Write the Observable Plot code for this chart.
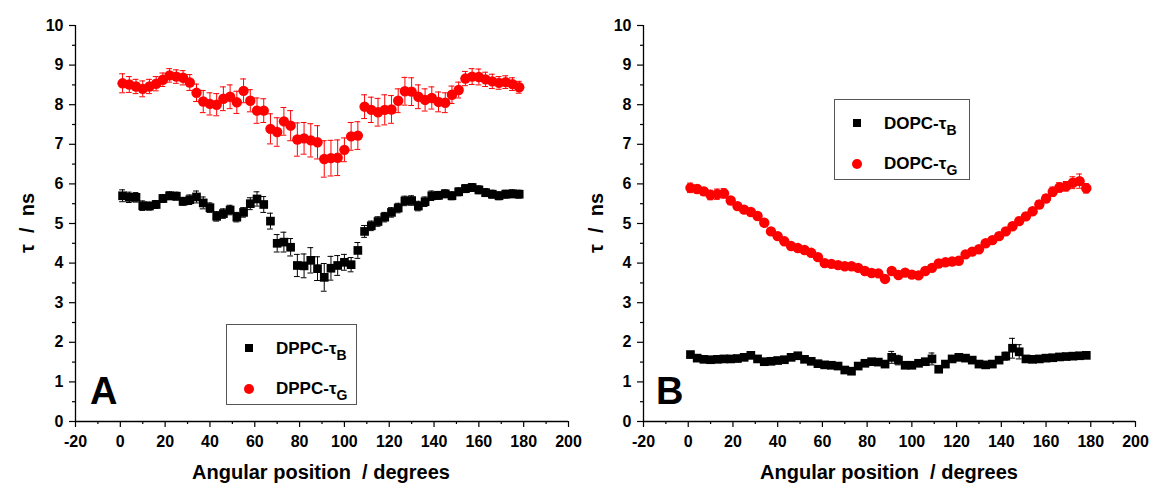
<!DOCTYPE html>
<html>
<head>
<meta charset="utf-8">
<script src="https://cdn.jsdelivr.net/npm/d3@7"></script>
<script src="https://cdn.jsdelivr.net/npm/@observablehq/plot@0.6"></script>
<style>
  body { margin: 0; background: #fff; }
  #wrap { position: relative; width: 1150px; height: 486px; font-family: "Liberation Sans", Arial, sans-serif; font-weight: bold; color: #000; overflow: hidden; }
  #wrap svg { position: absolute; top: 0; }
  #wrap svg text { font-family: "Liberation Sans", Arial, sans-serif !important; font-weight: bold !important; font-size: 16px !important; }
  .abs { position: absolute; white-space: nowrap; }
  .ytitle { font-size: 20px; line-height: 20px; transform: translate(-50%, -50%) rotate(-90deg); }
  .xtitle { font-size: 20px; line-height: 20px; transform: translateX(-50%); }
  .letter { font-size: 38px; line-height: 38px; }
  .legend { position: absolute; border: 1px solid #555; background: #fff; box-sizing: border-box; }
  .lt { position: absolute; font-size: 17px; line-height: 17px; }
  .lt sub { font-size: 14px; vertical-align: -6px; line-height: 0; }
  .sq { position: absolute; width: 8px; height: 8px; background: #000; }
  .ci { position: absolute; width: 10px; height: 10px; border-radius: 50%; background: #f00; }
</style>
</head>
<body>
<div id="wrap"></div>
<script>
// ---- data ----
const angle = [1,4,7,10,13,16,19,22,25,28,31,34,37,40,43,46,49,52,55,58,61,64,67,70,73,76,79,82,85,88,91,94,97,100,103,106,109,112,115,118,121,124,127,130,133,136,139,142,145,148,151,154,157,160,163,166,169,172,175,178];

// Panel A: DPPC
const dppcG = [8.54,8.51,8.46,8.40,8.46,8.53,8.63,8.74,8.71,8.68,8.56,8.30,8.08,8.02,8.00,8.15,8.20,8.06,8.35,8.10,7.85,7.85,7.39,7.31,7.58,7.47,7.12,7.15,7.10,7.05,6.63,6.65,6.66,6.86,7.20,7.22,7.95,7.87,7.81,7.87,7.88,8.10,8.34,8.33,8.20,8.12,8.17,8.07,8.05,8.25,8.37,8.66,8.71,8.70,8.64,8.59,8.55,8.57,8.52,8.44];
const dppcGerr = [0.24,0.20,0.18,0.20,0.18,0.18,0.17,0.17,0.17,0.18,0.20,0.22,0.28,0.28,0.28,0.30,0.30,0.28,0.30,0.28,0.32,0.30,0.38,0.36,0.35,0.38,0.42,0.40,0.42,0.42,0.46,0.45,0.45,0.30,0.35,0.35,0.30,0.32,0.35,0.38,0.35,0.30,0.35,0.35,0.30,0.28,0.28,0.25,0.25,0.22,0.20,0.18,0.20,0.20,0.18,0.18,0.16,0.16,0.16,0.15];
const dppcB = [5.70,5.66,5.66,5.45,5.44,5.48,5.63,5.70,5.69,5.56,5.60,5.67,5.52,5.40,5.18,5.25,5.34,5.16,5.28,5.50,5.62,5.48,5.06,4.50,4.53,4.40,3.94,3.93,4.07,3.86,3.64,3.87,3.94,4.02,3.96,4.32,4.80,4.94,5.05,5.16,5.28,5.39,5.57,5.58,5.44,5.55,5.70,5.71,5.75,5.70,5.80,5.88,5.91,5.85,5.78,5.74,5.70,5.74,5.75,5.74];
const dppcBerr = [0.15,0.13,0.12,0.12,0.10,0.10,0.10,0.10,0.10,0.10,0.12,0.15,0.15,0.12,0.12,0.12,0.12,0.12,0.12,0.15,0.18,0.20,0.20,0.22,0.25,0.22,0.28,0.30,0.32,0.30,0.35,0.30,0.25,0.20,0.18,0.20,0.15,0.12,0.12,0.12,0.12,0.12,0.12,0.12,0.12,0.12,0.12,0.10,0.10,0.10,0.10,0.10,0.10,0.10,0.10,0.10,0.10,0.10,0.10,0.10];

// Panel B: DOPC
const dopcG = [5.90,5.87,5.81,5.72,5.74,5.76,5.58,5.44,5.35,5.29,5.19,5.02,4.80,4.68,4.55,4.43,4.38,4.33,4.26,4.15,4.00,3.98,3.95,3.92,3.92,3.88,3.80,3.75,3.74,3.60,3.80,3.70,3.76,3.71,3.69,3.80,3.88,3.99,4.02,4.04,4.06,4.22,4.29,4.35,4.50,4.58,4.68,4.80,4.93,5.06,5.18,5.31,5.48,5.63,5.80,5.91,5.94,6.03,6.07,5.89];
const dopcGerr = [0.12,0.10,0.10,0.12,0.13,0.12,0.08,0.08,0.08,0.08,0.08,0.08,0.08,0.07,0.07,0.07,0.07,0.07,0.07,0.07,0.07,0.07,0.07,0.07,0.07,0.07,0.07,0.07,0.07,0.07,0.08,0.07,0.07,0.07,0.07,0.07,0.07,0.07,0.07,0.07,0.07,0.07,0.07,0.07,0.07,0.08,0.08,0.08,0.08,0.08,0.08,0.08,0.10,0.10,0.12,0.12,0.12,0.15,0.18,0.12];
const dopcB = [1.69,1.60,1.57,1.56,1.57,1.58,1.58,1.59,1.62,1.67,1.58,1.51,1.52,1.54,1.56,1.62,1.66,1.57,1.52,1.46,1.43,1.42,1.40,1.30,1.27,1.40,1.47,1.51,1.50,1.45,1.62,1.55,1.42,1.42,1.47,1.51,1.58,1.32,1.45,1.58,1.62,1.60,1.55,1.45,1.43,1.45,1.55,1.65,1.85,1.76,1.58,1.57,1.58,1.60,1.61,1.63,1.64,1.65,1.66,1.67];
const dopcBerr = [0.05,0.05,0.05,0.05,0.05,0.05,0.05,0.05,0.05,0.05,0.05,0.05,0.05,0.05,0.05,0.05,0.05,0.05,0.05,0.05,0.05,0.05,0.05,0.05,0.05,0.05,0.05,0.05,0.05,0.05,0.15,0.12,0.06,0.05,0.05,0.05,0.15,0.08,0.06,0.05,0.05,0.05,0.05,0.05,0.05,0.05,0.05,0.10,0.25,0.18,0.05,0.05,0.05,0.05,0.05,0.05,0.05,0.05,0.05,0.05];

const xMajor = [-20,0,20,40,60,80,100,120,140,160,180,200];
const xMinor = [-10,10,30,50,70,90,110,130,150,170,190];
const yMajor = [0,1,2,3,4,5,6,7,8,9,10];
const yMinor = [0.5,1.5,2.5,3.5,4.5,5.5,6.5,7.5,8.5,9.5];

const rows = (vals, errs) => angle.map((x, i) => ({x, y: vals[i], e: errs[i]}));

function panel(gVals, gErr, bVals, bErr, mLeft, mRight) {
  const G = rows(gVals, gErr), B = rows(bVals, bErr);
  const cap = 1.3; // half-width of error caps, in degrees
  const errMarks = (data, color) => [
    Plot.ruleX(data, {x: "x", y1: d => d.y - d.e, y2: d => d.y + d.e, stroke: color, strokeWidth: 1}),
    Plot.ruleY(data, {y: d => d.y + d.e, x1: d => d.x - cap, x2: d => d.x + cap, stroke: color, strokeWidth: 1}),
    Plot.ruleY(data, {y: d => d.y - d.e, x1: d => d.x - cap, x2: d => d.x + cap, stroke: color, strokeWidth: 1})
  ];
  return Plot.plot({
    width: 575, height: 486,
    marginLeft: mLeft, marginRight: mRight, marginTop: 25, marginBottom: 65,
    style: {fontFamily: '"Liberation Sans", Arial, sans-serif', fontWeight: "bold", fontSize: "16px", color: "#000", background: "transparent", overflow: "visible"},
    x: {domain: [-20, 200]},
    y: {domain: [0, 10]},
    marks: [
      Plot.axisX({ticks: xMajor, tickSize: 6, tickPadding: 8, fontSize: 16, strokeWidth: 1.2, label: null, tickFormat: d => String(d)}),
      Plot.axisX({ticks: xMinor, tickSize: 3, strokeWidth: 1.2, label: null, tickFormat: () => ""}),
      Plot.axisY({ticks: yMajor, tickSize: 6, tickPadding: 6, fontSize: 16, strokeWidth: 1.2, label: null, tickFormat: d => String(d)}),
      Plot.axisY({ticks: yMinor, tickSize: 3, strokeWidth: 1.2, label: null, tickFormat: () => ""}),
      Plot.ruleY([0], {stroke: "#000", strokeWidth: 1.3}),
      Plot.ruleX([-20], {stroke: "#000", strokeWidth: 1.3}),
      ...errMarks(B, "#000"),
      ...errMarks(G, "#ff0000"),
      Plot.dot(B, {x: "x", y: "y", symbol: "square", r: 4.9, fill: "#000", stroke: "none"}),
      Plot.dot(G, {x: "x", y: "y", r: 5.2, fill: "#ff0000", stroke: "none"})
    ]
  });
}

const wrap = document.getElementById("wrap");
const svgA = panel(dppcG, dppcGerr, dppcB, dppcBerr, 75, 7);
svgA.style.left = "0px";
const svgB = panel(dopcG, dopcGerr, dopcB, dopcBerr, 68, 15);
svgB.style.left = "575px";
wrap.appendChild(svgA);
wrap.appendChild(svgB);

function addDiv(cls, html, css) {
  const d = document.createElement("div");
  d.className = cls;
  d.innerHTML = html;
  Object.assign(d.style, css);
  wrap.appendChild(d);
  return d;
}

// axis titles
const yTitle = "\u03c4&nbsp; / &nbsp;ns";
const xTitle = "Angular position&nbsp; / degrees";
addDiv("abs ytitle", yTitle, {left: "27px", top: "223px"});
addDiv("abs ytitle", yTitle, {left: "596px", top: "223px"});
addDiv("abs xtitle", xTitle, {left: "321px", top: "462px"});
addDiv("abs xtitle", xTitle, {left: "889px", top: "462px"});

// panel letters
addDiv("abs letter", "A", {left: "90px", top: "372px"});
addDiv("abs letter", "B", {left: "656px", top: "372px"});

// legends
function legend(x, y, w, h, name) {
  const box = addDiv("legend", "", {left: x + "px", top: y + "px", width: w + "px", height: h + "px"});
  const sq = document.createElement("div"); sq.className = "sq";
  Object.assign(sq.style, {left: "18px", top: "19px"}); box.appendChild(sq);
  const ci = document.createElement("div"); ci.className = "ci";
  Object.assign(ci.style, {left: "17px", top: "59px"}); box.appendChild(ci);
  const t1 = document.createElement("div"); t1.className = "lt";
  t1.innerHTML = name + "-\u03c4<sub>B</sub>";
  Object.assign(t1.style, {left: "49px", top: "15px"}); box.appendChild(t1);
  const t2 = document.createElement("div"); t2.className = "lt";
  t2.innerHTML = name + "-\u03c4<sub>G</sub>";
  Object.assign(t2.style, {left: "49px", top: "55px"}); box.appendChild(t2);
}
legend(226, 324, 131, 81, "DPPC");
legend(834, 99, 136, 81, "DOPC");
</script>
</body>
</html>
